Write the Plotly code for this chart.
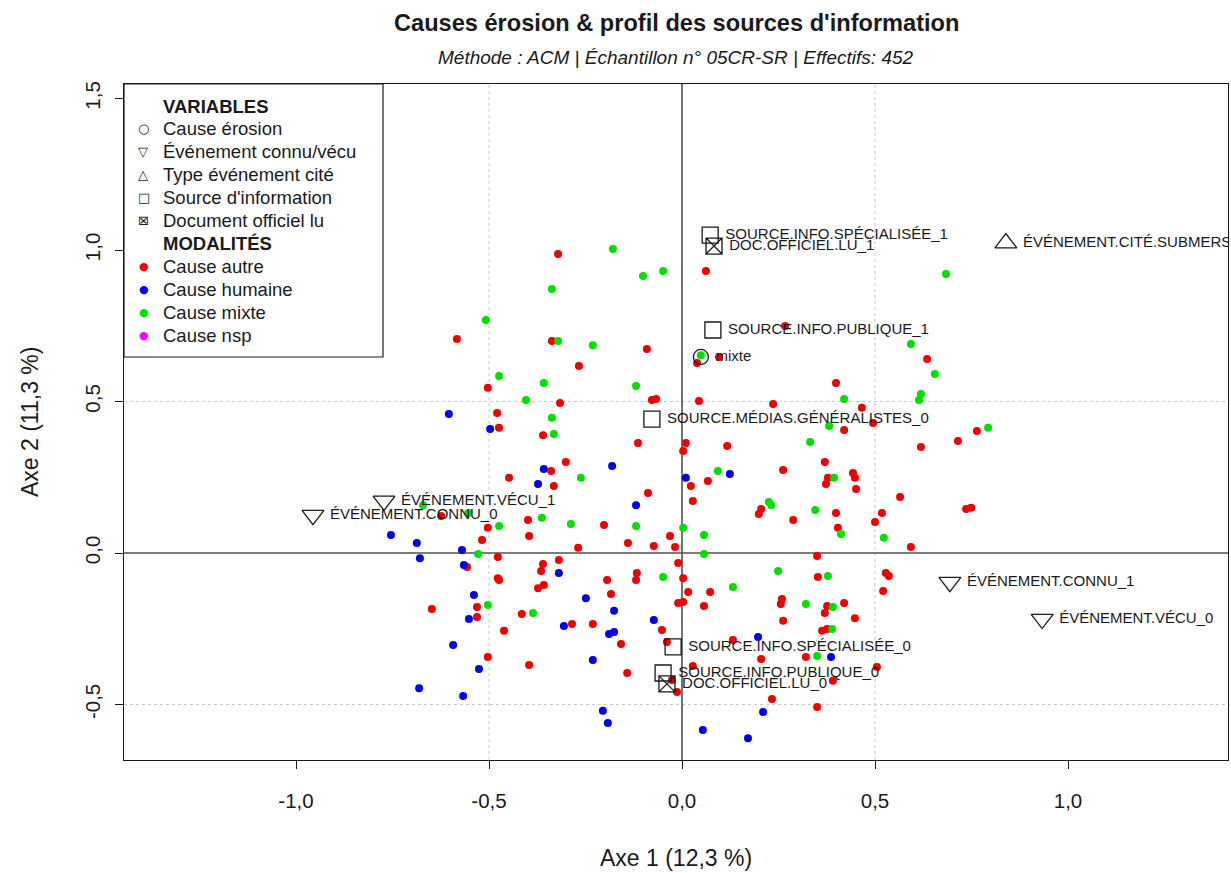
import plotly.graph_objects as go

# ---------------- data ----------------
red_x = [-0.321, -0.337, -0.091, -0.267, -0.078, -0.067, -0.316, 0.044, 0.062, 0.039, 0.096,
         -0.583, -0.503, -0.479, 0.267, 0.635, 0.399, 0.466, 0.236, -0.474, -0.448, -0.624,
         -0.399, -0.503, -0.396, -0.518, -0.477, -0.557, -0.477, -0.360, -0.114, 0.010, 0.003,
         0.117, -0.301, -0.339, -0.332, 0.023, 0.067, -0.088, 0.028, 0.205, 0.199, -0.202,
         -0.031, -0.269, -0.140, -0.073, -0.018, -0.010, -0.319, -0.360, -0.365, -0.117,
         -0.194, 0.003, 0.420, 0.495, 0.764, 0.715, 0.619, 0.370, 0.262, 0.443, 0.378, 0.448,
         0.373, 0.451, 0.565, 0.399, 0.518, 0.736, 0.749, 0.288, 0.500, 0.404, 0.593, 0.350,
         0.352, 0.528, 0.536, -0.531, -0.648, -0.531, -0.415, -0.461, -0.503, -0.396, -0.474,
         -0.373, -0.358, -0.119, 0.016, 0.073, -0.184, -0.010, 0.003, 0.057, -0.285, -0.231,
         -0.052, -0.158, -0.039, 0.132, 0.205, 0.028, -0.142, -0.026, -0.013, 0.521, 0.259,
         0.256, 0.376, 0.370, 0.420, 0.448, 0.262, 0.363, 0.376, 0.321, 0.505, 0.391, 0.233,
         0.350]
red_y = [0.987, 0.700, 0.673, 0.617, 0.505, 0.508, 0.495, 0.502, 0.931, 0.627, 0.647,
         0.706, 0.545, 0.462, 0.749, 0.640, 0.561, 0.479, 0.492, 0.413, 0.248, 0.122,
         0.109, 0.083, 0.056, 0.043, -0.013, -0.046, -0.083, 0.389, 0.363, 0.363, 0.337,
         0.353, 0.300, 0.271, 0.221, 0.221, 0.238, 0.198, 0.172, 0.145, 0.129, 0.092,
         0.056, 0.017, 0.033, 0.023, 0.020, -0.033, -0.023, -0.036, -0.059, -0.066,
         -0.089, -0.083, 0.406, 0.429, 0.403, 0.370, 0.350, 0.300, 0.274, 0.264, 0.248, 0.248,
         0.228, 0.211, 0.185, 0.132, 0.132, 0.145, 0.149, 0.109, 0.102, 0.083, 0.020, -0.010,
         -0.079, -0.066, -0.076, -0.178, -0.185, -0.211, -0.201, -0.257, -0.343, -0.370, -0.089,
         -0.116, -0.106, -0.089, -0.129, -0.129, -0.135, -0.165, -0.162, -0.175, -0.234, -0.234,
         -0.254, -0.300, -0.294, -0.287, -0.350, -0.373, -0.396, -0.419, -0.459, -0.125, -0.152,
         -0.168, -0.175, -0.198, -0.165, -0.215, -0.224, -0.257, -0.251, -0.343, -0.376, -0.422,
         -0.482, -0.508]

blue_x = [-0.604, -0.497, -0.754, -0.687, -0.570, -0.679, -0.565, -0.181, -0.358, 0.124,
          -0.373, 0.010, -0.119, -0.319, -0.539, -0.552, -0.593, -0.526, -0.681, -0.567,
          -0.249, -0.176, -0.306, -0.073, -0.189, -0.176, 0.197, -0.231, -0.205, -0.192,
          0.210, 0.054, 0.171, 0.386]
blue_y = [0.459, 0.409, 0.059, 0.033, 0.010, -0.017, -0.040, 0.287, 0.277, 0.261,
          0.228, 0.248, 0.158, -0.066, -0.139, -0.218, -0.304, -0.383, -0.446, -0.472,
          -0.149, -0.191, -0.241, -0.221, -0.267, -0.261, -0.277, -0.353, -0.521, -0.561,
          -0.525, -0.584, -0.611, -0.343]

green_x = [-0.179, -0.101, -0.049, -0.337, -0.321, -0.231, -0.358, -0.119, 0.049, -0.508,
           -0.474, -0.404, 0.684, 0.593, 0.655, 0.619, 0.614, 0.420, -0.671, -0.554, -0.474,
           -0.528, -0.337, -0.332, -0.262, 0.093, 0.225, -0.363, -0.288, -0.119, 0.003, 0.057,
           0.057, -0.049, 0.381, 0.793, 0.332, 0.394, 0.231, 0.345, 0.412, 0.523, 0.249, 0.378,
           -0.503, -0.386, 0.132, 0.321, 0.391, 0.389, 0.350]
green_y = [1.003, 0.914, 0.931, 0.871, 0.700, 0.686, 0.561, 0.551, 0.653, 0.769,
           0.584, 0.505, 0.921, 0.690, 0.591, 0.525, 0.505, 0.508, 0.158, 0.132, 0.089,
           -0.003, 0.446, 0.393, 0.248, 0.271, 0.168, 0.116, 0.096, 0.089, 0.083, 0.059,
           -0.003, -0.079, 0.419, 0.413, 0.366, 0.248, 0.158, 0.142, 0.063, 0.050, -0.059, -0.076,
           -0.172, -0.198, -0.112, -0.168, -0.178, -0.251, -0.340]

nsp_x = []
nsp_y = []

var_names = ["SOURCE.INFO.SPÉCIALISÉE_1", "DOC.OFFICIEL.LU_1", "ÉVÉNEMENT.CITÉ.SUBMERSION_1",
             "SOURCE.INFO.PUBLIQUE_1", "mixte", "SOURCE.MÉDIAS.GÉNÉRALISTES_0",
             "ÉVÉNEMENT.VÉCU_1", "ÉVÉNEMENT.CONNU_0", "ÉVÉNEMENT.CONNU_1", "ÉVÉNEMENT.VÉCU_0",
             "SOURCE.INFO.SPÉCIALISÉE_0", "SOURCE.INFO.PUBLIQUE_0", "DOC.OFFICIEL.LU_0"]
var_x = [0.073, 0.083, 0.839, 0.080, 0.049, -0.078, -0.772, -0.956, 0.694, 0.933, -0.023, -0.049, -0.039]
var_y = [1.049, 1.013, 1.023, 0.736, 0.647, 0.442, 0.172, 0.125, -0.096, -0.218, -0.310, -0.396, -0.432]
var_group = ["source", "doc", "type", "source", "cause", "source", "event", "event", "event",
             "event", "source", "source", "doc"]

x_ticks = [-1.0, -0.5, 0.0, 0.5, 1.0]
x_ticktext = ["-1,0", "-0,5", "0,0", "0,5", "1,0"]
y_ticks = [-0.5, 0.0, 0.5, 1.0, 1.5]
y_ticktext = ["-0,5", "0,0", "0,5", "1,0", "1,5"]

legend_var_labels = ["Cause érosion", "Événement connu/vécu", "Type événement cité",
                     "Source d'information", "Document officiel lu"]
legend_var_glyphs = ["○", "▽", "△", "□", "⊠"]
legend_mod_labels = ["Cause autre", "Cause humaine", "Cause mixte", "Cause nsp"]

# ---------------- styles ----------------
COL = {"autre": "#F00000", "humaine": "#0000F0", "mixte": "#00E000", "nsp": "#FF00FF"}
SYM = {"cause": ("circle-open", 15), "event": ("triangle-down-open", 19),
       "type": ("triangle-up-open", 19), "source": ("square-open", 16),
       "doc": ("square-x-open", 16)}
FONT = "Liberation Sans, Arial, sans-serif"
INK = "#1a1a1a"

fig = go.Figure()
for xs, ys, key in [(red_x, red_y, "autre"), (blue_x, blue_y, "humaine"),
                    (green_x, green_y, "mixte"), (nsp_x, nsp_y, "nsp")]:
    fig.add_trace(go.Scatter(x=xs, y=ys, mode="markers", showlegend=False,
                             marker=dict(color=COL[key], size=8, line=dict(width=0))))

for grp in ["cause", "event", "type", "source", "doc"]:
    idx = [i for i, g in enumerate(var_group) if g == grp]
    sym, sz = SYM[grp]
    fig.add_trace(go.Scatter(
        x=[var_x[i] for i in idx], y=[var_y[i] for i in idx],
        text=[" " + var_names[i] for i in idx], mode="markers+text", textposition="middle right",
        cliponaxis=True, showlegend=False,
        textfont=dict(family=FONT, size=15, color=INK),
        marker=dict(symbol=sym, size=sz, color=INK, line=dict(width=1.3, color=INK))))

# grid lines (dotted) and zero lines
shapes = []
for v in [-0.5, 0.5]:
    shapes.append(dict(type="line", xref="x", yref="paper", x0=v, x1=v, y0=0, y1=1,
                       line=dict(color="#c8c8c8", width=1, dash="dot"), layer="below"))
    shapes.append(dict(type="line", xref="paper", yref="y", x0=0, x1=1, y0=v, y1=v,
                       line=dict(color="#c8c8c8", width=1, dash="dot"), layer="below"))
shapes.append(dict(type="line", xref="x", yref="paper", x0=0, x1=0, y0=0, y1=1,
                   line=dict(color="#505050", width=1.6), layer="below"))
shapes.append(dict(type="line", xref="paper", yref="y", x0=0, x1=1, y0=0, y1=0,
                   line=dict(color="#505050", width=1.6), layer="below"))

# legend box (pixel -> paper helpers)
L, R_, T, B = 124, 1228, 84, 760
def px(xp):
    return (xp - L) / (R_ - L)
def py(yp):
    return (B - yp) / (B - T)

shapes.append(dict(type="rect", xref="paper", yref="paper", x0=0, x1=px(383), y0=py(357), y1=1,
                   line=dict(color=INK, width=1.2), fillcolor="white", layer="above"))

ann = []
row_y = [106 + 22.9 * k for k in range(11)]
ann.append(dict(x=px(161), y=py(row_y[0]), text="<b>VARIABLES</b>"))
for k, (g, lab) in enumerate(zip(legend_var_glyphs, legend_var_labels)):
    ann.append(dict(x=px(136), y=py(row_y[k + 1]), text=g, font=dict(size=13, family="DejaVu Sans", color=INK)))
    ann.append(dict(x=px(161), y=py(row_y[k + 1]), text=lab))
ann.append(dict(x=px(161), y=py(row_y[6]), text="<b>MODALITÉS</b>"))
for k, (c, lab) in enumerate(zip(["autre", "humaine", "mixte", "nsp"], legend_mod_labels)):
    ann.append(dict(x=px(137), y=py(row_y[k + 7]), text="●", font=dict(size=11, family="DejaVu Sans", color=COL[c])))
    ann.append(dict(x=px(161), y=py(row_y[k + 7]), text=lab))
for a in ann:
    a.update(xref="paper", yref="paper", xanchor="left", yanchor="middle", showarrow=False)
    a.setdefault("font", dict(size=18.5, family=FONT, color=INK))

# titles
ann.append(dict(xref="paper", yref="paper", x=0.5, y=py(23), xanchor="center", yanchor="middle",
                showarrow=False, text="<b>Causes érosion & profil des sources d'information</b>",
                font=dict(size=23.6, family=FONT, color=INK)))
ann.append(dict(xref="paper", yref="paper", x=0.5, y=py(58), xanchor="center", yanchor="middle",
                showarrow=False, text="<i>Méthode : ACM | Échantillon n° 05CR-SR | Effectifs: 452</i>",
                font=dict(size=19, family=FONT, color=INK)))
ann.append(dict(xref="paper", yref="paper", x=0.5, y=py(858), xanchor="center", yanchor="middle",
                showarrow=False, text="Axe 1 (12,3 %)", font=dict(size=23, family=FONT, color=INK)))
ann.append(dict(xref="paper", yref="paper", x=px(30), y=0.5, xanchor="center", yanchor="middle",
                showarrow=False, textangle=-90, text="Axe 2 (11,3 %)",
                font=dict(size=23, family=FONT, color=INK)))

axis_common = dict(showgrid=False, zeroline=False, showline=True, mirror=True,
                   linecolor=INK, linewidth=1.2, ticks="outside", ticklen=8,
                   tickcolor=INK, tickwidth=1.2,
                   tickfont=dict(size=20.5, family=FONT, color=INK))

fig.update_layout(
    width=1231, height=873,
    margin=dict(l=L, r=1231 - R_, t=T, b=873 - B, autoexpand=False),
    paper_bgcolor="white", plot_bgcolor="white",
    xaxis=dict(range=[(L - 682) / 386, (R_ - 682) / 386], tickvals=x_ticks, ticktext=x_ticktext,
               ticklabelstandoff=14, **axis_common),
    yaxis=dict(range=[(553 - B) / 303, (553 - T) / 303], tickvals=y_ticks, ticktext=y_ticktext,
               tickangle=-90, ticklabelstandoff=7, **axis_common),
    shapes=shapes, annotations=ann, showlegend=False,
)

fig.write_html("out.html", config={"displayModeBar": False},
               post_script="document.body.style.margin='0';document.body.style.overflow='hidden';")
